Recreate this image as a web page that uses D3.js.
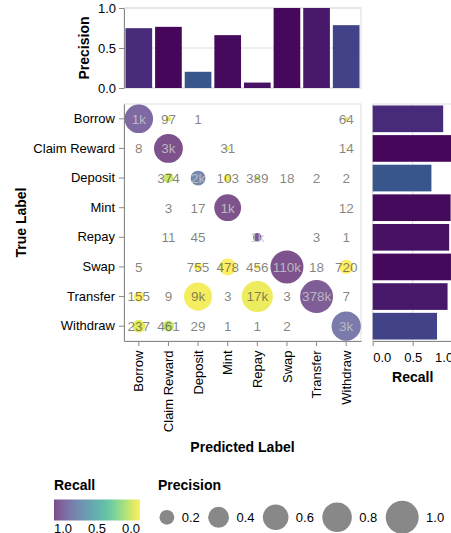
<!DOCTYPE html>
<html><head><meta charset="utf-8">
<script src="https://cdn.jsdelivr.net/npm/d3@7"></script>
<style>
body{margin:0;background:#fff}
svg text{font-family:"Liberation Sans",Arial,Helvetica,sans-serif}
</style>
</head><body>
<svg id="chart" width="451" height="533"></svg>
<script>
// ---------- data ----------
const labels = ["Borrow","Claim Reward","Deposit","Mint","Repay","Swap","Transfer","Withdraw"];
// rows = true label, columns = predicted label (0 = empty cell)
const rowBorrow   = [1200,   97,    1,    0,     0,      0,      0,   64];
const rowClaim    = [   8, 3100,    0,   31,     0,      0,      0,   14];
const rowDeposit  = [   0,  374, 2450,  103,   389,     18,      2,    2];
const rowMint     = [   0,    3,   17, 1200,     0,      0,      0,   12];
const rowRepay    = [   0,   11,   45,    0,  1300,      0,      3,    1];
const rowSwap     = [   5,    0,  755,  478,   456, 110000,     18,  720];
const rowTransfer = [ 155,    9, 8800,    3, 17000,      3, 378000,    7];
const rowWithdraw = [ 237,  461,   29,    1,     1,      2,      0, 3000];
const counts = [rowBorrow,rowClaim,rowDeposit,rowMint,rowRepay,rowSwap,rowTransfer,rowWithdraw];
const axisTicks = [0, 0.5, 1];
const colorLegendTicks = [1.0, 0.5, 0.0];
const sizeLegendValues = [0.2, 0.4, 0.6, 0.8, 1.0];

// ---------- derived ----------
const rowSum = counts.map(r => d3.sum(r));
const colSum = labels.map((_, j) => d3.sum(counts, r => r[j]));
const recall = labels.map((_, i) => counts[i][i] / rowSum[i]);
const precision = labels.map((_, j) => counts[j][j] / colSum[j]);
const cells = [];
counts.forEach((r, i) => r.forEach((v, j) => {
  if (v > 0) cells.push({t: labels[i], p: labels[j], v, rec: v / rowSum[i], prec: v / colSum[j]});
}));
const fmt = v => v >= 1000 ? Math.round(v / 1000) + "k" : String(v);

// ---------- layout ----------
const M = {x: 124, y: 104, w: 237, h: 237};
const T = {x: 124, y: 8, w: 237, h: 80};
const R = {x: 372.7, y: 104, w: 80, h: 237};
const FONT = '"Liberation Sans",Arial,Helvetica,sans-serif';

const svg = d3.select("#chart");
const color = v => d3.interpolateViridis(1 - v);
const rScale = d3.scaleSqrt().domain([0, 1]).range([0, 16.5]);

function styleAxis(g) {
  g.attr("font-family", FONT).attr("font-size", 13);
  g.select(".domain").attr("stroke", "#888");
  g.selectAll(".tick line").attr("stroke", "#888");
  g.selectAll(".tick text").attr("fill", "#000");
}

// ---------- top precision bars ----------
const xBar = d3.scaleBand().domain(labels).range([0, T.w]).paddingInner(0.1).paddingOuter(0.05);
const yP = d3.scaleLinear().domain([0, 1]).range([T.h, 0]);
const gT = svg.append("g").attr("transform", `translate(${T.x},${T.y})`);
gT.append("g").selectAll("line").data(axisTicks).join("line")
  .attr("x1", 0).attr("x2", T.w).attr("y1", d => yP(d)).attr("y2", d => yP(d))
  .attr("stroke", "#ddd");
gT.append("rect").attr("width", T.w).attr("height", T.h).attr("fill", "none").attr("stroke", "#ddd");
gT.append("g").selectAll("rect").data(labels).join("rect")
  .attr("x", d => xBar(d)).attr("width", xBar.bandwidth())
  .attr("y", (d, i) => yP(precision[i])).attr("height", (d, i) => yP(0) - yP(precision[i]))
  .attr("fill", (d, i) => color(recall[i]));
gT.append("g")
  .call(d3.axisLeft(yP).tickValues(axisTicks).tickFormat(d3.format(".1f")).tickSize(5).tickPadding(3).tickSizeOuter(0))
  .call(styleAxis);
svg.append("text").attr("transform", `translate(89,${T.y + T.h / 2}) rotate(-90)`)
  .attr("text-anchor", "middle").attr("font-weight", "bold").attr("font-size", 14).text("Precision");

// ---------- confusion matrix ----------
const xM = d3.scaleBand().domain(labels).range([0, M.w]);
const yM = d3.scaleBand().domain(labels).range([0, M.h]);
const gM = svg.append("g").attr("transform", `translate(${M.x},${M.y})`);
gM.append("rect").attr("width", M.w).attr("height", M.h).attr("fill", "none").attr("stroke", "#ddd");
gM.append("g").selectAll("circle").data(cells).join("circle")
  .attr("cx", d => xM(d.p) + xM.bandwidth() / 2)
  .attr("cy", d => yM(d.t) + yM.bandwidth() / 2)
  .attr("r", d => rScale(d.prec))
  .attr("fill", d => color(d.rec)).attr("fill-opacity", 0.7);
gM.append("g").selectAll("text").data(cells).join("text")
  .attr("x", d => xM(d.p) + xM.bandwidth() / 2)
  .attr("y", d => yM(d.t) + yM.bandwidth() / 2)
  .attr("dy", "0.36em").attr("text-anchor", "middle").attr("font-size", 13.5)
  .attr("fill", d => d.rec > 0.5 ? "#c4c4c4" : "#444")
  .attr("fill-opacity", d => d.rec > 0.5 ? 0.9 : 0.66)
  .text(d => fmt(d.v));
gM.append("g")
  .call(d3.axisLeft(yM).tickSize(5).tickPadding(4).tickSizeOuter(0))
  .call(styleAxis);
const gx = gM.append("g").attr("transform", `translate(0,${M.h})`)
  .call(d3.axisBottom(xM).tickSize(5).tickSizeOuter(0))
  .call(styleAxis);
gx.selectAll(".tick text")
  .attr("transform", "translate(0,9.5) rotate(-90)")
  .attr("x", 0).attr("y", 0).attr("dy", "0.35em").attr("text-anchor", "end");
svg.append("text").attr("x", M.x + M.w / 2).attr("y", 452)
  .attr("text-anchor", "middle").attr("font-weight", "bold").attr("font-size", 14).text("Predicted Label");
svg.append("text").attr("transform", `translate(26,${M.y + M.h / 2}) rotate(-90)`)
  .attr("text-anchor", "middle").attr("font-weight", "bold").attr("font-size", 14).text("True Label");

// ---------- right recall bars ----------
const yBar = d3.scaleBand().domain(labels).range([0, R.h]).paddingInner(0.1).paddingOuter(0.05);
const xR = d3.scaleLinear().domain([0, 1]).range([0, R.w]);
const gR = svg.append("g").attr("transform", `translate(${R.x},${R.y})`);
gR.append("g").selectAll("line").data(axisTicks).join("line")
  .attr("y1", 0).attr("y2", R.h).attr("x1", d => xR(d)).attr("x2", d => xR(d))
  .attr("stroke", "#ddd");
gR.append("rect").attr("width", R.w).attr("height", R.h).attr("fill", "none").attr("stroke", "#ddd");
gR.append("g").selectAll("rect").data(labels).join("rect")
  .attr("y", d => yBar(d)).attr("height", yBar.bandwidth())
  .attr("x", 0).attr("width", (d, i) => xR(recall[i]))
  .attr("fill", (d, i) => color(recall[i]));
const gRx = gR.append("g").attr("transform", `translate(0,${R.h})`)
  .call(d3.axisBottom(xR).tickValues(axisTicks).tickFormat(d3.format(".1f")).tickSize(5).tickPadding(7).tickSizeOuter(0))
  .call(styleAxis);
gRx.selectAll(".tick text").attr("text-anchor", (d, i, n) => i === 0 ? "start" : (i === n.length - 1 ? "end" : "middle"));
svg.append("text").attr("x", R.x + 40).attr("y", 382)
  .attr("text-anchor", "middle").attr("font-weight", "bold").attr("font-size", 14).text("Recall");

// ---------- legends ----------
const gL = svg.append("g");
gL.append("text").attr("x", 54).attr("y", 490).attr("font-weight", "bold").attr("font-size", 14).text("Recall");
const grad = svg.append("defs").append("linearGradient").attr("id", "vir").attr("x1", "0%").attr("x2", "100%");
d3.range(0, 1.0001, 0.1).forEach(t => {
  grad.append("stop").attr("offset", (t * 100) + "%").attr("stop-color", d3.interpolateViridis(t));
});
const xLeg = d3.scaleLinear().domain([1, 0]).range([54, 140]);
gL.append("rect").attr("x", 54).attr("y", 499.5).attr("width", 86).attr("height", 21)
  .attr("fill", "url(#vir)").attr("fill-opacity", 0.7);
gL.selectAll("text.cl").data(colorLegendTicks).join("text").attr("class", "cl")
  .attr("x", d => xLeg(d)).attr("y", 532.5).attr("font-size", 13)
  .attr("text-anchor", (d, i) => i === 0 ? "start" : (i === colorLegendTicks.length - 1 ? "end" : "middle"))
  .text(d => d3.format(".1f")(d));

gL.append("text").attr("x", 158).attr("y", 490).attr("font-weight", "bold").attr("font-size", 14).text("Precision");
let cursor = 159.5;
sizeLegendValues.forEach(v => {
  const r = rScale(v);
  const cx = cursor + r;
  gL.append("circle").attr("cx", cx).attr("cy", 517.3).attr("r", r).attr("fill", "#888");
  const t = gL.append("text").attr("x", cx + r + 7.4).attr("y", 517.3).attr("dy", "0.36em")
    .attr("font-size", 13).text(d3.format(".1f")(v));
  cursor = cx + r + 7.4 + t.node().getComputedTextLength() + 8.4;
});
</script>
</body></html>
